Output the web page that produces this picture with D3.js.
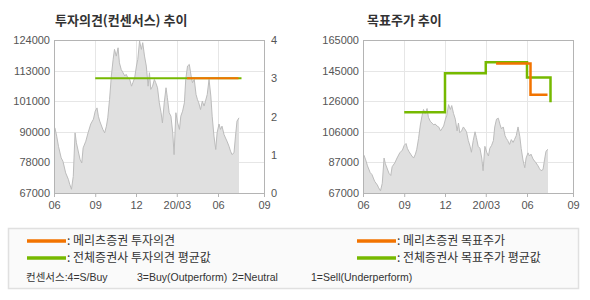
<!DOCTYPE html>
<html>
<head>
<meta charset="utf-8">
<script src="https://cdn.jsdelivr.net/npm/d3@7"></script>
<style>
  body { margin: 0; background: #fff; }
  svg { display: block; font-family: "Liberation Sans", Arial, sans-serif; }
  .kr { font-family: "Noto Sans CJK KR", "Noto Sans", sans-serif; }
  .note { font-family: "Liberation Sans", "Noto Sans CJK KR", sans-serif; }
</style>
</head>
<body>
<svg id="chart" width="590" height="300"></svg>
<script>
// ---- data ----
const xTickDates  = ["2019-06-01", "2019-09-01", "2019-12-01", "2020-03-01", "2020-06-01", "2020-09-01"];
const xTickLabels = ["06", "09", "12", "20/03", "06", "09"];

// daily close (sampled)
const price = [
  ["2019-06-03", 91300], ["2019-06-07", 88200], ["2019-06-11", 84400], ["2019-06-17", 80100],
  ["2019-06-21", 78800], ["2019-06-27", 74500], ["2019-07-03", 72100], ["2019-07-06", 70300],
  ["2019-07-10", 68400], ["2019-07-14", 73200], ["2019-07-18", 89400], ["2019-07-21", 85700],
  ["2019-07-29", 79600], ["2019-08-02", 78200], ["2019-08-05", 83800], ["2019-08-11", 86300],
  ["2019-08-16", 89400], ["2019-08-22", 92700], ["2019-08-28", 94500], ["2019-09-01", 97500],
  ["2019-09-05", 98700], ["2019-09-08", 95600], ["2019-09-11", 93800], ["2019-09-18", 90700],
  ["2019-09-22", 89400], ["2019-09-26", 91900], ["2019-09-29", 95000], ["2019-10-03", 101900],
  ["2019-10-07", 110600], ["2019-10-11", 116800], ["2019-10-14", 120500], ["2019-10-18", 118000],
  ["2019-10-22", 121100], ["2019-10-25", 115500], ["2019-10-29", 113000], ["2019-11-02", 111800],
  ["2019-11-06", 110600], ["2019-11-09", 111200], ["2019-11-13", 109900], ["2019-11-17", 109300],
  ["2019-11-21", 106800], ["2019-11-24", 108100], ["2019-11-28", 109900], ["2019-12-02", 114300],
  ["2019-12-05", 116800], ["2019-12-09", 123600], ["2019-12-13", 120500], ["2019-12-16", 123000],
  ["2019-12-20", 118000], ["2019-12-24", 114300], ["2019-12-28", 106800], ["2019-12-31", 111800],
  ["2020-01-03", 105600], ["2020-01-07", 106800], ["2020-01-11", 109300], ["2020-01-14", 108100],
  ["2020-01-18", 106200], ["2020-01-22", 100600], ["2020-01-26", 96900], ["2020-01-29", 93100],
  ["2020-02-02", 100600], ["2020-02-06", 106200], ["2020-02-09", 102500], ["2020-02-13", 96900],
  ["2020-02-17", 95600], ["2020-02-21", 89400], ["2020-02-24", 81300], ["2020-02-28", 96900],
  ["2020-03-03", 93100], ["2020-03-07", 90700], ["2020-03-10", 95600], ["2020-03-14", 97500],
  ["2020-03-18", 100600], ["2020-03-21", 109300], ["2020-03-25", 114300], ["2020-03-29", 114900],
  ["2020-04-02", 110600], ["2020-04-05", 108100], ["2020-04-09", 109300], ["2020-04-13", 103700],
  ["2020-04-16", 101900], ["2020-04-19", 100600], ["2020-04-23", 98100], ["2020-04-27", 101200],
  ["2020-05-01", 99400], ["2020-05-04", 101200], ["2020-05-08", 103700], ["2020-05-12", 109300],
  ["2020-05-16", 103100], ["2020-05-19", 95600], ["2020-05-23", 88200], ["2020-05-27", 83200],
  ["2020-05-30", 89400], ["2020-06-03", 92700], ["2020-06-06", 90700], ["2020-06-09", 91900],
  ["2020-06-13", 88800], ["2020-06-16", 87500], ["2020-06-19", 86300], ["2020-06-23", 84400],
  ["2020-06-26", 82600], ["2020-06-29", 81300], ["2020-07-03", 82000], ["2020-07-06", 88200],
  ["2020-07-09", 93800], ["2020-07-13", 95000]
];

// investment opinion (4=S/Buy ... 1=Sell)
const opinionAll    = [["2019-09-01", 3], ["2020-07-18", 3]];
const opinionMeritz = [["2020-03-24", 3], ["2020-07-12", 3]];

// target price
const targetAll    = [["2019-09-01", 118700], ["2019-12-01", 143700], ["2020-03-01", 150700],
                      ["2020-06-01", 141000], ["2020-07-18", 125100]];
const targetMeritz = [["2020-03-24", 150000], ["2020-06-08", 130000], ["2020-07-12", 130000]];

const leftPriceDomain  = [67000, 124000];
const rightPriceDomain = [67000, 165000];
const opinionDomain    = [0, 4];

const legendItems = [
  { text: "메리츠증권 투자의견",        color: "orange", col: 0, row: 0 },
  { text: "전체증권사 투자의견 평균값", color: "green",  col: 0, row: 1 },
  { text: "메리츠증권 목표주가",        color: "orange", col: 1, row: 0 },
  { text: "전체증권사 목표주가 평균값", color: "green",  col: 1, row: 1 }
];
const consensusNotes = ["컨센서스:4=S/Buy", "3=Buy(Outperform)", "2=Neutral", "1=Sell(Underperform)"];

// ---- style ----
const colors = { orange: "#f27300", green: "#76b900" };
const parse = d3.timeParse("%Y-%m-%d");
const svg = d3.select("#chart");

const plotW = 210, plotH = 153;
// quarters are 41px apart, the last one is stretched to the frame edge
const xDomain = [parse("2019-06-01"), parse("2020-06-01"), parse("2020-09-01")];
const xRange  = [0, 164, plotW];

const fiveTicks = dom => d3.range(6).map(i => dom[0] + i * (dom[1] - dom[0]) / 5);
const thousands = v => Math.round(v / 1000) * 1000;

function panel(left, title, priceDomain) {
  const g = svg.append("g").attr("transform", `translate(${left},40)`);
  const x = d3.scaleTime().domain(xDomain).range(xRange);
  const y = d3.scaleLinear().domain(priceDomain).range([plotH, 0]);
  const yTicks = fiveTicks(priceDomain);

  // title
  svg.append("text")
    .attr("class", "kr")
    .attr("x", left + (left < 100 ? 1 : 4))
    .attr("y", 25)
    .attr("font-size", 13)
    .attr("font-weight", "bold")
    .attr("fill", "#333")
    .text(title);

  // grid
  g.append("g").selectAll("line")
    .data(yTicks.slice(1, -1))
    .join("line")
      .attr("x1", 0).attr("x2", plotW)
      .attr("y1", d => Math.round(y(d)) + 0.5).attr("y2", d => Math.round(y(d)) + 0.5)
      .attr("stroke", "#e6e6e6");
  g.append("g").selectAll("line")
    .data(xTickDates.slice(1, -1).map(parse))
    .join("line")
      .attr("x1", d => Math.round(x(d)) + 0.5).attr("x2", d => Math.round(x(d)) + 0.5)
      .attr("y1", 0).attr("y2", plotH)
      .attr("stroke", "#e6e6e6");

  // price area
  const pts = price.map(([d, v]) => [parse(d), v]);
  g.append("path")
    .datum(pts)
    .attr("fill", "#e0e0e0")
    .attr("d", d3.area().x(d => x(d[0])).y0(plotH).y1(d => y(d[1])));
  g.append("path")
    .datum(pts)
    .attr("fill", "none")
    .attr("stroke", "#bcbcbc")
    .attr("stroke-width", 1)
    .attr("d", d3.line().x(d => x(d[0])).y(d => y(d[1])));

  // frame
  g.append("rect")
    .attr("x", 0.5).attr("y", 0.5)
    .attr("width", plotW).attr("height", plotH)
    .attr("fill", "none")
    .attr("stroke", "#b4b4b4");

  // left axis
  const yAxis = g.append("g")
    .call(d3.axisLeft(y).tickValues(yTicks).tickFormat(d => thousands(d)).tickSize(0).tickPadding(4));
  yAxis.select(".domain").remove();
  yAxis.selectAll("text").attr("fill", "#555").attr("font-size", 11);

  // bottom axis
  const xAxis = g.append("g")
    .attr("transform", `translate(0,${plotH})`)
    .call(d3.axisBottom(x).tickValues(xTickDates.map(parse))
      .tickFormat((d, i) => xTickLabels[i]).tickSize(4).tickPadding(4));
  xAxis.select(".domain").remove();
  xAxis.selectAll("line").attr("stroke", "#b4b4b4");
  xAxis.selectAll("text").attr("fill", "#555").attr("font-size", 11);

  return { g, x, y };
}

function stepLine(p, data, scaleY, color, width) {
  p.g.append("path")
    .datum(data.map(([d, v]) => [parse(d), v]))
    .attr("fill", "none")
    .attr("stroke", color)
    .attr("stroke-width", width)
    .attr("d", d3.line().curve(d3.curveStepAfter).x(d => p.x(d[0])).y(d => scaleY(d[1])));
}

// ---- left: opinion ----
const pl = panel(54, "투자의견(컨센서스) 추이", leftPriceDomain);
const yOpinion = d3.scaleLinear().domain(opinionDomain).range([plotH, 0]);
const rAxis = pl.g.append("g")
  .attr("transform", `translate(${plotW},0)`)
  .call(d3.axisRight(yOpinion).ticks(4).tickSize(0).tickPadding(7));
rAxis.select(".domain").remove();
rAxis.selectAll("text").attr("fill", "#555").attr("font-size", 11);
stepLine(pl, opinionAll, yOpinion, colors.green, 2);
stepLine(pl, opinionMeritz, yOpinion, colors.orange, 2);

// ---- right: target price ----
const pr = panel(363, "목표주가 추이", rightPriceDomain);
stepLine(pr, targetAll, pr.y, colors.green, 2.5);
stepLine(pr, targetMeritz, pr.y, colors.orange, 2.5);

// ---- legend ----
svg.append("rect")
  .attr("x", 8.5).attr("y", 228.5)
  .attr("width", 570).attr("height", 60)
  .attr("fill", "#fafafa")
  .attr("stroke", "#e0e0e0")
  .attr("stroke-width", 1.5);

const colX = [27, 357];
const rowY = [241, 258];
const lg = svg.append("g").selectAll("g")
  .data(legendItems)
  .join("g")
    .attr("transform", d => `translate(${colX[d.col]},${rowY[d.row]})`);
lg.append("line")
  .attr("x1", 0).attr("x2", 39)
  .attr("stroke", d => colors[d.color])
  .attr("stroke-width", 3.5);
lg.append("text")
  .attr("class", "kr")
  .attr("x", 40)
  .attr("dy", "0.36em")
  .attr("font-size", 12)
  .attr("fill", "#333")
  .text(d => ": " + d.text);

const noteX = [26, 137, 232, 311];
svg.append("g").selectAll("text")
  .data(consensusNotes)
  .join("text")
    .attr("class", "note")
    .attr("x", (d, i) => noteX[i])
    .attr("y", 277)
    .attr("dy", "0.36em")
    .attr("font-size", 10.5)
    .attr("fill", "#333")
    .text(d => d);
</script>
</body>
</html>
